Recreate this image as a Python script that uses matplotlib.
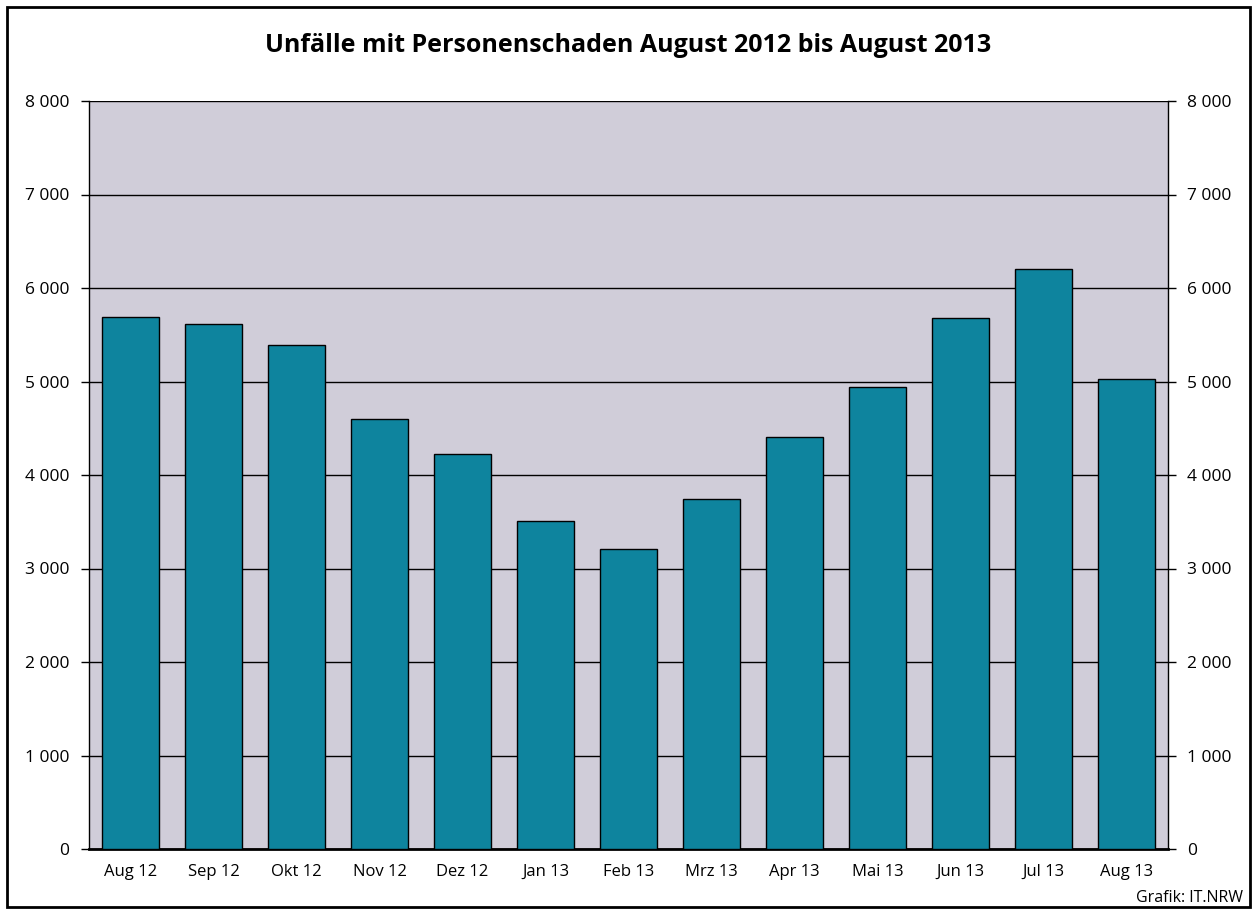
import matplotlib.pyplot as plt
from matplotlib.patches import Rectangle

months = ["Aug 12", "Sep 12", "Okt 12", "Nov 12", "Dez 12", "Jan 13", "Feb 13",
          "Mrz 13", "Apr 13", "Mai 13", "Jun 13", "Jul 13", "Aug 13"]
unfaelle = [5694, 5616, 5395, 4604, 4229, 3512, 3212, 3747, 4411, 4946, 5675, 6200, 5026]
y_ticks = [0, 1000, 2000, 3000, 4000, 5000, 6000, 7000, 8000]
y_labels = ["0", "1 000", "2 000", "3 000", "4 000", "5 000", "6 000", "7 000", "8 000"]

plt.rcParams["font.family"] = ["Open Sans", "DejaVu Sans"]

fig = plt.figure(figsize=(12.57, 9.15), dpi=100)
ax = fig.add_axes([89 / 1257, 66 / 915, 1079 / 1257, 748 / 915])

#########################################################
# BARS
#########################################################

x = list(range(len(months)))
ax.bar(x, unfaelle, width=0.675, color="#0E849E", edgecolor="black",
       linewidth=1.0, zorder=3)

ax.set_facecolor("#D0CDD9")
ax.set_xlim(-0.5, len(months) - 0.5)
ax.set_ylim(0, 8000)

ax.set_yticks(y_ticks)
ax.set_yticklabels(y_labels)
ax.yaxis.grid(True, color="black", linewidth=1.0, zorder=1)
ax.set_axisbelow(True)

ax.set_xticks(x)
ax.set_xticklabels(months)

ax.tick_params(axis="x", length=0, pad=11, labelsize=12)
ax.tick_params(axis="y", length=6, width=1.0, pad=8, labelsize=12.5,
               right=True, labelright=True, direction="out")

for side in ["left", "right"]:
    ax.spines[side].set_linewidth(1.0)
ax.spines["top"].set_visible(False)
ax.spines["bottom"].set_linewidth(2.0)

#########################################################
# TEXT + FRAME
#########################################################

fig.text(0.5, 1 - 45 / 915, "Unfälle mit Personenschaden August 2012 bis August 2013",
         ha="center", va="center", fontsize=18, fontweight="bold")

fig.text(1243 / 1257, 1 - 898 / 915, "Grafik: IT.NRW",
         ha="right", va="center", fontsize=11.5)

fig.patches.append(Rectangle((7 / 1257, 8 / 915), 1243 / 1257, 900 / 915,
                             transform=fig.transFigure, fill=False,
                             edgecolor="black", linewidth=2.0))

fig.savefig("out.png", dpi=100)
